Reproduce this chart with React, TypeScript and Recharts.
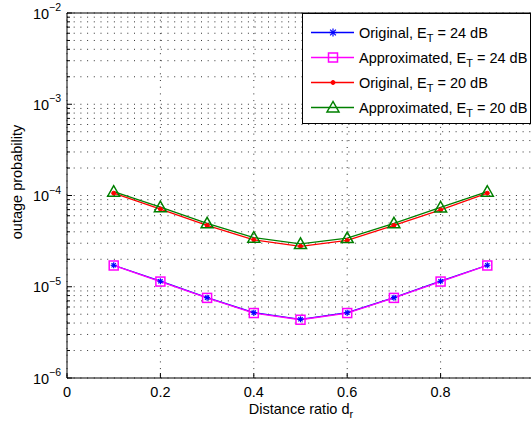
import React from "react";
import {
  LineChart,
  Line,
  XAxis,
  YAxis,
  CartesianGrid,
  ReferenceLine,
} from "recharts";

const distanceRatio = [0.1, 0.2, 0.3, 0.4, 0.5, 0.6, 0.7, 0.8, 0.9];
const original24 = [1.72e-5, 1.15e-5, 7.6e-6, 5.2e-6, 4.4e-6, 5.2e-6, 7.6e-6, 1.15e-5, 1.72e-5];
const approx24 = [1.71e-5, 1.14e-5, 7.55e-6, 5.15e-6, 4.35e-6, 5.15e-6, 7.55e-6, 1.14e-5, 1.71e-5];
const original20 = [1.06e-4, 7.1e-5, 4.7e-5, 3.27e-5, 2.77e-5, 3.22e-5, 4.7e-5, 6.95e-5, 1.06e-4];
const approx20 = [1.1e-4, 7.45e-5, 4.95e-5, 3.45e-5, 2.95e-5, 3.42e-5, 4.95e-5, 7.4e-5, 1.1e-4];

const xTicks = [0, 0.2, 0.4, 0.6, 0.8, 1];
const xTickLabels = ["0", "0.2", "0.4", "0.6", "0.8", ""];
const decades = [1e-6, 1e-5, 1e-4, 1e-3, 1e-2];
const minorSteps = [2, 3, 4, 5, 6, 7, 8, 9];

const yTicks: number[] = [];
decades.forEach((d, i) => {
  yTicks.push(d);
  if (i < decades.length - 1) minorSteps.forEach((m) => yTicks.push(d * m));
});

const data = distanceRatio.map((d, i) => ({
  d,
  o24: original24[i],
  a24: approx24[i],
  o20: original20[i],
  a20: approx20[i],
}));

const FONT = "'Liberation Sans', Arial, Helvetica, sans-serif";
const FS = 14.5;
const PLOT_LEFT = 67;
const PLOT_BOTTOM = 378;

const BLUE = "#0000ff";
const MAGENTA = "#ff00ff";
const RED = "#ff0000";
const GREEN = "#008000";

const Star = ({ cx, cy, r = 4 }: any) => {
  if (cx == null || cy == null) return null;
  const k = r * 0.72;
  return (
    <g stroke={BLUE} strokeWidth={1.2}>
      <line x1={cx - r} y1={cy} x2={cx + r} y2={cy} />
      <line x1={cx} y1={cy - r} x2={cx} y2={cy + r} />
      <line x1={cx - k} y1={cy - k} x2={cx + k} y2={cy + k} />
      <line x1={cx - k} y1={cy + k} x2={cx + k} y2={cy - k} />
    </g>
  );
};

const Square = ({ cx, cy }: any) => {
  if (cx == null || cy == null) return null;
  return <rect x={cx - 4.5} y={cy - 4.5} width={9} height={9} fill="none" stroke={MAGENTA} strokeWidth={1.5} />;
};

const Dot = ({ cx, cy }: any) => {
  if (cx == null || cy == null) return null;
  return <circle cx={cx} cy={cy} r={2} fill={RED} stroke={RED} />;
};

const Triangle = ({ cx, cy }: any) => {
  if (cx == null || cy == null) return null;
  return (
    <polygon
      points={`${cx},${cy - 6} ${cx - 6},${cy + 4.5} ${cx + 6},${cy + 4.5}`}
      fill="none"
      stroke={GREEN}
      strokeWidth={1.5}
    />
  );
};

const YTick = ({ y, payload }: any) => {
  const v = payload.value;
  const major = decades.some((d) => Math.abs(v / d - 1) < 1e-6);
  const exp = Math.round(Math.log10(v));
  return (
    <g>
      <line x1={PLOT_LEFT} y1={y} x2={PLOT_LEFT + (major ? 5 : 3)} y2={y} stroke="#000" />
      {major && (
        <text x={61} y={y + 5.5} textAnchor="end" fontSize={FS} fontFamily={FONT} fill="#000">
          10
          <tspan dy={-7.5} fontSize={10.5}>
            {"\u2212" + Math.abs(exp)}
          </tspan>
        </text>
      )}
    </g>
  );
};

const XTick = ({ x, payload, index }: any) => (
  <g>
    <line x1={x} y1={PLOT_BOTTOM} x2={x} y2={PLOT_BOTTOM - 5} stroke="#000" />
    <text x={x} y={PLOT_BOTTOM + 18.5} textAnchor="middle" fontSize={FS} fontFamily={FONT} fill="#000">
      {xTickLabels[index] ?? payload.value}
    </text>
  </g>
);

const legendItems = [
  { label: "Original, E", sub: "T", tail: " = 24 dB", color: BLUE, Marker: Star },
  { label: "Approximated, E", sub: "T", tail: " = 24 dB", color: MAGENTA, Marker: Square },
  { label: "Original, E", sub: "T", tail: " = 20 dB", color: RED, Marker: Dot },
  { label: "Approximated, E", sub: "T", tail: " = 20 dB", color: GREEN, Marker: Triangle },
];

const LegendBox = () => (
  <div
    style={{
      position: "absolute",
      left: 302,
      top: 13,
      width: 229,
      height: 111,
      border: "1px solid #000",
      background: "#fff",
      fontFamily: FONT,
      fontSize: FS,
      color: "#000",
      paddingTop: 6,
      boxSizing: "border-box",
    }}
  >
    {legendItems.map((it, i) => (
      <div key={i} style={{ display: "flex", alignItems: "center", height: 25 }}>
        <svg width={56} height={25} style={{ flex: "none" }}>
          <line x1={8} y1={12.5} x2={51} y2={12.5} stroke={it.color} strokeWidth={1.5} />
          <it.Marker cx={30} cy={12.5} />
        </svg>
        <span style={{ whiteSpace: "nowrap", lineHeight: "14px" }}>
          {it.label}
          <sub style={{ fontSize: 11, verticalAlign: "-4px", lineHeight: 0 }}>{it.sub}</sub>
          {it.tail}
        </span>
      </div>
    ))}
  </div>
);

export default function App() {
  return (
    <div
      style={{
        position: "absolute",
        left: 0,
        top: 0,
        width: 531,
        height: 423,
        overflow: "hidden",
        background: "#fff",
      }}
    >
      <LineChart width={540} height={423} data={data} margin={{ top: 13, right: 6, left: 0, bottom: 0 }}>
        <CartesianGrid stroke="#333" strokeDasharray="1 5.7" />
        <XAxis
          dataKey="d"
          type="number"
          domain={[0, 1]}
          ticks={xTicks}
          height={45}
          axisLine={{ stroke: "#000", strokeWidth: 1 }}
          tickLine={false}
          tick={<XTick />}
          interval={0}
          label={{
            content: () => (
              <text x={301} y={414} textAnchor="middle" fontSize={FS} fontFamily={FONT} fill="#000">
                Distance ratio d
                <tspan dy={4} fontSize={11}>
                  r
                </tspan>
              </text>
            ),
          }}
        />
        <YAxis
          type="number"
          scale="log"
          domain={[1e-6, 1e-2]}
          allowDataOverflow
          ticks={yTicks}
          interval={0}
          width={67}
          axisLine={{ stroke: "#000", strokeWidth: 1 }}
          tickLine={false}
          tick={<YTick />}
          label={{
            content: () => (
              <text
                x={22}
                y={182}
                textAnchor="middle"
                fontSize={FS}
                fontFamily={FONT}
                fill="#000"
                transform="rotate(-90 22 182)"
              >
                outage probability
              </text>
            ),
          }}
        />
        <ReferenceLine y={1e-2} stroke="#000" ifOverflow="extendDomain" />
        <Line dataKey="o24" stroke={BLUE} strokeWidth={1.3} dot={<Star />} isAnimationActive={false} />
        <Line dataKey="a24" stroke={MAGENTA} strokeWidth={1.3} dot={<Square />} isAnimationActive={false} />
        <Line dataKey="o20" stroke={RED} strokeWidth={1.3} dot={<Dot />} isAnimationActive={false} />
        <Line dataKey="a20" stroke={GREEN} strokeWidth={1.3} dot={<Triangle />} isAnimationActive={false} />
      </LineChart>
      <LegendBox />
    </div>
  );
}
